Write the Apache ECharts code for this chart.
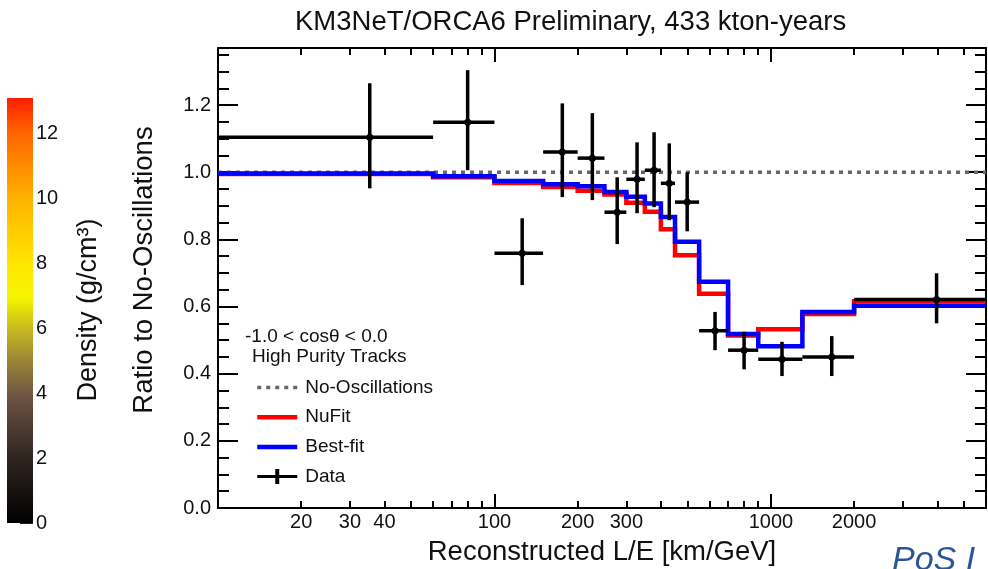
<!DOCTYPE html>
<html><head><meta charset="utf-8">
<script src="https://cdn.jsdelivr.net/npm/echarts@6/dist/echarts.min.js"></script>
<style>html,body{margin:0;padding:0;background:#fff}#c{width:988px;height:569px}</style>
</head><body><div id="c"></div>
<script>
// ---- data ----
const binEdges = [10, 60, 100, 150, 200, 250, 300, 350, 400, 450, 550, 700, 900, 1300, 2000, 6000];
const nuFit   = [0.995, 0.985, 0.968, 0.956, 0.945, 0.934, 0.909, 0.882, 0.830, 0.753, 0.638, 0.514, 0.532, 0.578, 0.616];
const bestFit = [0.996, 0.988, 0.974, 0.964, 0.958, 0.941, 0.927, 0.907, 0.867, 0.793, 0.674, 0.518, 0.482, 0.584, 0.602];
const dataX   = [35.4, 80, 126, 176, 226, 278, 328, 378, 429, 498, 628, 800, 1097, 1660, 3975];
const dataY   = [1.104, 1.149, 0.759, 1.060, 1.042, 0.881, 0.979, 1.006, 0.967, 0.911, 0.528, 0.470, 0.443, 0.450, 0.621];
const dataYHi = [1.265, 1.304, 0.863, 1.205, 1.176, 0.985, 1.089, 1.119, 1.086, 1.000, 0.584, 0.525, 0.495, 0.512, 0.699];
const dataYLo = [0.952, 1.006, 0.664, 0.926, 0.917, 0.786, 0.878, 0.896, 0.857, 0.824, 0.470, 0.413, 0.393, 0.393, 0.550];
const noOscLevel = 1.0;
const xMin = 10, xMax = 6000, yMin = 0, yMax = 1.37;
const xTickLabels = [20, 30, 40, 100, 200, 300, 1000, 2000];
const xMajorTicks = [100, 1000];
const xMinorTicks = [20, 30, 40, 50, 60, 70, 80, 90, 200, 300, 400, 500, 600, 700, 800, 900, 2000, 3000, 4000, 5000];
const yTickLabels = [0.0, 0.2, 0.4, 0.6, 0.8, 1.0, 1.2];
const densityTicks = [0, 2, 4, 6, 8, 10, 12];
const densityMax = 13.1;

const FONT = 'Liberation Sans';
function stepData(vals) {
  const d = vals.map((v, i) => [binEdges[i], v]);
  d.push([binEdges[binEdges.length - 1], vals[vals.length - 1]]);
  return d;
}
const errData = dataX.map((x, i) => [x, dataY[i], binEdges[i], binEdges[i + 1], dataYLo[i], dataYHi[i]]);

const lineBlk = { show: true, onZero: false, lineStyle: { color: '#000', width: 2 } };
function xAx(pos, ticks, len, withLine, labels, extra) {
  return Object.assign({
    type: 'log', logBase: 10, min: xMin, max: xMax, position: pos, gridIndex: 0,
    axisLine: withLine ? lineBlk : { show: false, onZero: false },
    axisTick: { show: true, inside: true, length: len, customValues: ticks, lineStyle: { color: '#000', width: 2 } },
    axisLabel: labels ? {
      show: true, customValues: labels, margin: 4, color: '#111', fontSize: 20, fontFamily: FONT,
      formatter: v => String(Math.round(v))
    } : { show: false },
    splitLine: { show: false }, minorTick: { show: false }
  }, extra || {});
}
function yAx(pos, len, withLine, major, extra) {
  const o = {
    type: 'value', min: yMin, max: yMax, position: pos, gridIndex: 0,
    axisLine: withLine ? lineBlk : { show: false, onZero: false },
    axisTick: { show: true, inside: true, length: len, lineStyle: { color: '#000', width: 2 } },
    axisLabel: { show: false },
    splitLine: { show: false }
  };
  if (major) o.axisTick.customValues = yTickLabels; else o.interval = 0.05;
  return Object.assign(o, extra || {});
}

const chart = echarts.init(document.getElementById('c'), null, { renderer: 'canvas' });
chart.setOption({
  animation: false,
  backgroundColor: '#fff',
  title: {
    text: 'KM3NeT/ORCA6 Preliminary, 433 kton-years', left: 290, top: 3,
    textStyle: { fontFamily: FONT, fontSize: 27.5, fontWeight: 'normal', color: '#111' }
  },
  grid: [
    { left: 218, right: 2, top: 48, bottom: 61, containLabel: false, outerBoundsMode: 'none' },
    { left: 7, top: 98, width: 26, height: 425, containLabel: false, outerBoundsMode: 'none' }
  ],
  xAxis: [
    xAx('bottom', xMajorTicks, 14, true, xTickLabels, {
      name: 'Reconstructed L/E [km/GeV]', nameLocation: 'middle', nameGap: 30,
      nameTextStyle: { fontFamily: FONT, fontSize: 27.5, color: '#111' }
    }),
    xAx('bottom', xMinorTicks, 7, false, null),
    xAx('top', xMajorTicks, 14, true, null),
    xAx('top', xMinorTicks, 7, false, null),
    { type: 'category', gridIndex: 1, data: [''], show: false }
  ],
  yAxis: [
    yAx('left', 20, true, true, {
      axisLabel: { show: true, customValues: yTickLabels, margin: 7, color: '#111', fontSize: 20, fontFamily: FONT,
        formatter: v => v.toFixed(1) },
      name: 'Ratio to No-Oscillations', nameLocation: 'middle', nameGap: 60, nameRotate: 90,
      nameTextStyle: { fontFamily: FONT, fontSize: 27.5, color: '#111', padding: [0, 0, 0, 16] }
    }),
    yAx('left', 11, false, false),
    yAx('right', 20, true, true),
    yAx('right', 11, false, false),
    {
      type: 'value', gridIndex: 1, min: 0, max: densityMax, position: 'right',
      axisLine: { show: false },
      axisTick: { show: true, inside: true, length: 13, customValues: densityTicks, lineStyle: { color: '#222', width: 2 } },
      axisLabel: { show: true, customValues: densityTicks, margin: 3, color: '#111', fontSize: 20, fontFamily: FONT },
      splitLine: { show: false }
    }
  ],
  legend: {
    orient: 'vertical', left: 250, top: 373, itemWidth: 40, itemHeight: 15, itemGap: 10.7,
    selectedMode: false,
    textStyle: { fontFamily: FONT, fontSize: 19, color: '#111', padding: [0, 0, 0, 3] },
    data: [
      { name: 'No-Oscillations', itemStyle: { opacity: 0 }, lineStyle: { width: 3.5, color: '#666666', type: [4, 5] } },
      { name: 'NuFit', itemStyle: { opacity: 0 }, lineStyle: { width: 4.5, color: '#ff0000' } },
      { name: 'Best-fit', itemStyle: { opacity: 0 }, lineStyle: { width: 4.5, color: '#0000ff' } },
      { name: 'Data', icon: 'path://M0,6H18V0H22V6H40V9H22V15H18V9H0Z' }
    ]
  },
  graphic: [
    { type: 'text', left: 245, top: 327, style: { text: '-1.0 < cos\u03b8 < 0.0', font: '19px "Liberation Sans"', fill: '#111' } },
    { type: 'text', left: 252, top: 347, style: { text: 'High Purity Tracks', font: '19px "Liberation Sans"', fill: '#111' } },
    { type: 'text', x: 89, y: 310, rotation: Math.PI / 2,
      style: { text: 'Density (g/cm\u00b3)', font: '27px "Liberation Sans"', fill: '#111', align: 'center', verticalAlign: 'middle' } },
    { type: 'text', left: 892, top: 544, style: { text: 'PoS I', font: 'italic 34px "Liberation Sans"', fill: '#2c5597' } }
  ],
  series: [
    {
      name: 'No-Oscillations', type: 'line', xAxisIndex: 0, yAxisIndex: 0, symbol: 'none', silent: true,
      data: [[xMin, noOscLevel], [xMax, noOscLevel]],
      lineStyle: { color: '#666666', width: 3.5, type: [4, 5] }, itemStyle: { color: '#666666' }, z: 2
    },
    {
      name: 'NuFit', type: 'line', step: 'end', xAxisIndex: 0, yAxisIndex: 0, symbol: 'none', silent: true,
      data: stepData(nuFit),
      lineStyle: { color: '#ff0000', width: 4.5, join: 'miter', cap: 'butt' }, itemStyle: { color: '#ff0000' }, z: 3
    },
    {
      name: 'Best-fit', type: 'line', step: 'end', xAxisIndex: 0, yAxisIndex: 0, symbol: 'none', silent: true,
      data: stepData(bestFit),
      lineStyle: { color: '#0000ff', width: 4.5, join: 'miter', cap: 'butt' }, itemStyle: { color: '#0000ff' }, z: 4
    },
    {
      name: 'Data', type: 'custom', xAxisIndex: 0, yAxisIndex: 0, silent: true, z: 5,
      itemStyle: { color: '#000' },
      encode: { x: 0, y: 1 },
      data: errData,
      renderItem: (params, api) => {
        const c = api.coord([api.value(0), api.value(1)]);
        const l = api.coord([api.value(2), api.value(1)]);
        const r = api.coord([api.value(3), api.value(1)]);
        const t = api.coord([api.value(0), api.value(5)]);
        const b = api.coord([api.value(0), api.value(4)]);
        const st = { stroke: '#000', lineWidth: 3.5 };
        return { type: 'group', children: [
          { type: 'line', shape: { x1: l[0], y1: l[1], x2: r[0], y2: r[1] }, style: st },
          { type: 'line', shape: { x1: t[0], y1: t[1], x2: b[0], y2: b[1] }, style: st },
          { type: 'circle', shape: { cx: c[0], cy: c[1], r: 3.5 }, style: { fill: '#000' } }
        ] };
      }
    },
    {
      name: 'density', type: 'bar', xAxisIndex: 4, yAxisIndex: 4, barWidth: '100%', silent: true,
      data: [densityMax],
      itemStyle: {
        color: new echarts.graphic.LinearGradient(0, 0, 0, 1, [
          { offset: 0.00, color: '#ff1e00' },
          { offset: 0.08, color: '#ff6400' },
          { offset: 0.24, color: '#ffb400' },
          { offset: 0.39, color: '#ffe600' },
          { offset: 0.47, color: '#f5f500' },
          { offset: 0.54, color: '#c8bc1e' },
          { offset: 0.62, color: '#9a8436' },
          { offset: 0.70, color: '#6e5444' },
          { offset: 0.85, color: '#2e2420' },
          { offset: 1.00, color: '#000000' }
        ])
      }
    }
  ]
});
</script>
</body></html>
